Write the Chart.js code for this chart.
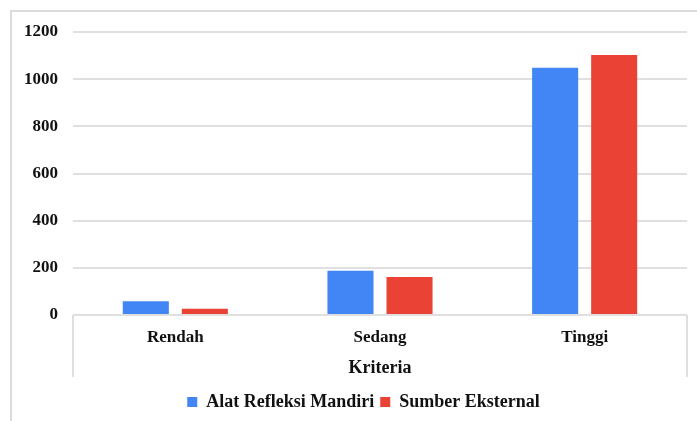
<!DOCTYPE html>
<html>
<head>
<meta charset="utf-8">
<script src="https://cdn.jsdelivr.net/npm/chart.js"></script>
<style>
  html, body { margin: 0; padding: 0; background: #fff; }
  #wrap { position: relative; width: 697px; height: 421px; }
</style>
</head>
<body>
<div id="wrap"><canvas id="grafik"></canvas></div>
<script>
// ─── DATA ───
var kategori = ['Rendah', 'Sedang', 'Tinggi'];
var alatRefleksi = [58, 188, 1048];
var sumberEksternal = [27, 161, 1103];
var yTicks = [0, 200, 400, 600, 800, 1000, 1200];

var BIRU = '#4285F4';
var MERAH = '#EA4335';
var GARIS = '#e0e0e0';
var TEKS = '#111';
var FONT = "'Liberation Serif', 'Times New Roman', serif";

// bingkai luar (kiri + atas) dan kotak sumbu kategori
var bingkai = {
  id: 'bingkai',
  afterLayout: function(chart) {
    // legenda dipusatkan sedikit ke kanan, di bawah area plot
    chart.legend.left = 40;
  },
  beforeDraw: function(chart) {
    var c = chart.ctx;
    c.save();
    c.strokeStyle = '#dcdcdc';
    c.lineWidth = 2;
    c.beginPath();
    c.moveTo(11, chart.height);
    c.lineTo(11, 11);
    c.lineTo(chart.width, 11);
    c.stroke();
    c.restore();
  },
  afterDraw: function(chart) {
    var c = chart.ctx;
    var a = chart.chartArea;
    c.save();
    c.strokeStyle = GARIS;
    c.lineWidth = 2;
    c.beginPath();
    c.moveTo(a.left, a.bottom);
    c.lineTo(a.left, a.bottom + 62);
    c.moveTo(a.right, a.bottom);
    c.lineTo(a.right, a.bottom + 62);
    c.stroke();
    c.restore();
  }
};

var ctx = document.getElementById('grafik').getContext('2d');
new Chart(ctx, {
  type: 'bar',
  data: {
    labels: kategori,
    datasets: [
      { label: 'Alat Refleksi Mandiri', data: alatRefleksi, backgroundColor: BIRU, borderWidth: 0 },
      { label: 'Sumber Eksternal', data: sumberEksternal, backgroundColor: MERAH, borderWidth: 0 }
    ]
  },
  options: {
    responsive: true,
    maintainAspectRatio: false,
    animation: false,
    categoryPercentage: 0.577,
    barPercentage: 0.78,
    layout: { padding: { left: 10, right: 10, top: 32, bottom: 0 } },
    plugins: {
      tooltip: { enabled: false },
      legend: {
        position: 'bottom',
        labels: {
          color: TEKS,
          font: { family: FONT, size: 18, weight: 'bold' },
          boxWidth: 10,
          boxHeight: 10,
          padding: 6
        }
      }
    },
    scales: {
      x: {
        grid: { display: false },
        border: { display: false },
        ticks: { color: TEKS, padding: 4, font: { family: FONT, size: 17, weight: 'bold' } },
        title: {
          display: true,
          text: 'Kriteria',
          color: TEKS,
          padding: { top: 0, bottom: 8 },
          font: { family: FONT, size: 18, weight: 'bold' }
        },
        afterFit: function(s) { s.height = 72; }
      },
      y: {
        min: 0,
        max: 1200,
        border: { display: false },
        grid: { color: GARIS, lineWidth: 2, drawTicks: false },
        afterBuildTicks: function(s) { s.ticks = yTicks.map(function(v) { return { value: v }; }); },
        ticks: {
          color: TEKS,
          padding: 15,
          font: { family: FONT, size: 17, weight: 'bold' },
          callback: function(v) { return String(v); }
        },
        afterFit: function(s) { s.width = 63; }
      }
    }
  },
  plugins: [bingkai]
});
</script>
</body>
</html>
